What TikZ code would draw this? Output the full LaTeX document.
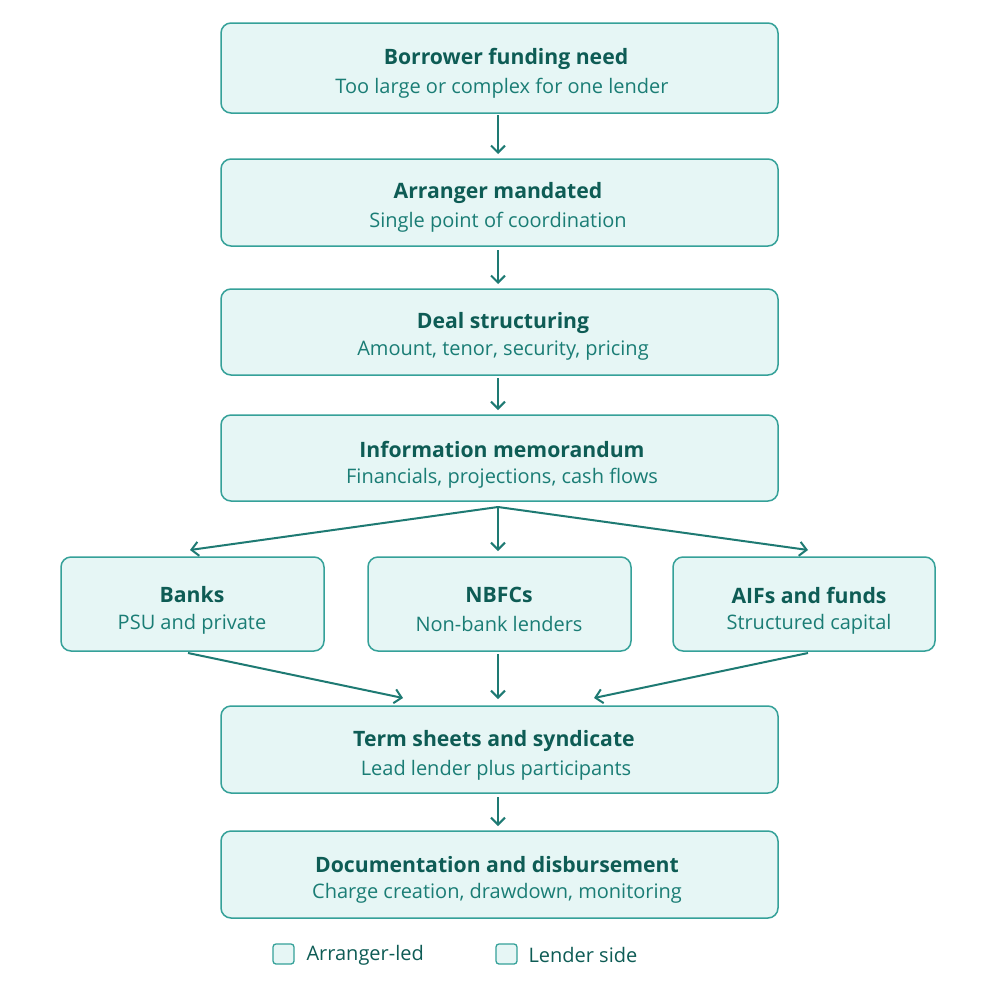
\documentclass[tikz,border=0pt]{standalone}
\usepackage{fontspec}
\setmainfont{Open Sans}
\usetikzlibrary{arrows.meta}
\definecolor{boxfill}{HTML}{E6F6F5}
\definecolor{boxline}{HTML}{35A199}
\definecolor{titlec}{HTML}{0E5C55}
\definecolor{subc}{HTML}{1A7D75}
\definecolor{arrc}{HTML}{1E7A73}
\tikzset{
  box/.style={draw=boxline, fill=boxfill, line width=1.5pt, rounded corners=10pt},
  ttl/.style={text=titlec, font=\fontsize{21.2}{25}\selectfont\bfseries, anchor=center},
  sub/.style={text=subc, font=\fontsize{20}{23}\selectfont, anchor=center},
  arr/.style={draw=arrc, line width=2pt, -{Straight Barb[length=7pt,width=14pt,line width=2pt]}},
  leg/.style={text=titlec, font=\fontsize{20}{23}\selectfont, anchor=west},
}
\begin{document}
\begin{tikzpicture}[x=1pt,y=-1pt]
\useasboundingbox (0,0) rectangle (996,999);
\fill[white] (0,0) rectangle (996,999);
% main boxes
\node[box, minimum width=557pt, minimum height=90pt] (b1) at (499.5,68) {};
\node[box, minimum width=557pt, minimum height=87pt] (b2) at (499.5,202.5) {};
\node[box, minimum width=557pt, minimum height=86pt] (b3) at (499.5,332) {};
\node[box, minimum width=557pt, minimum height=86pt] (b4) at (499.5,458) {};
\node[box, minimum width=263pt, minimum height=94pt] (b5) at (192.5,604) {};
\node[box, minimum width=263pt, minimum height=94pt] (b6) at (499.5,604) {};
\node[box, minimum width=262pt, minimum height=94pt] (b7) at (804,604) {};
\node[box, minimum width=557pt, minimum height=87pt] (b8) at (499.5,749.5) {};
\node[box, minimum width=557pt, minimum height=87pt] (b9) at (499.5,874.5) {};
% texts
\node[ttl] (t1) at (506,59) {Borrower funding need};
\node[sub] (s1) at (502,88) {Too large or complex for one lender};
\node[ttl] (t2) at (498,193) {Arranger mandated};
\node[sub] (s2) at (498,222) {Single point of coordination};
\node[ttl] (t3) at (503,323) {Deal structuring};
\node[sub] (s3) at (503,351) {Amount, tenor, security, pricing};
\node[ttl] (t4) at (502,449) {Information memorandum};
\node[sub] (s4) at (502,478) {Financials, projections, cash flows};
\node[ttl] (t5) at (192,595) {Banks};
\node[sub] (s5) at (192,624) {PSU and private};
\node[ttl] (t6) at (499,595) {NBFCs};
\node[sub] (s6) at (499,624) {Non-bank lenders};
\node[ttl] (t7) at (809,595) {AIFs and funds};
\node[sub] (s7) at (809,624) {Structured capital};
\node[ttl] (t8) at (494,741) {Term sheets and syndicate};
\node[sub] (s8) at (496,770) {Lead lender plus participants};
\node[ttl] (t9) at (497,865) {Documentation and disbursement};
\node[sub] (s9) at (497,893) {Charge creation, drawdown, monitoring};
% vertical arrows
\coordinate (a1s) at (498,115); \coordinate (a1e) at (498,154);
\draw[arr] (a1s) -- (a1e);
\coordinate (a2s) at (498,250); \coordinate (a2e) at (498,284);
\draw[arr] (a2s) -- (a2e);
\coordinate (a3s) at (498,378); \coordinate (a3e) at (498,410);
\draw[arr] (a3s) -- (a3e);
\coordinate (a8s) at (498,797); \coordinate (a8e) at (498,826);
\draw[arr] (a8s) -- (a8e);
% fan out
\coordinate (fo) at (498,507);
\coordinate (f5) at (190,550);
\coordinate (f6) at (498,551);
\coordinate (f7) at (808,550);
\draw[arr] (fo) -- (f5);
\draw[arr] (fo) -- (f6);
\draw[arr] (fo) -- (f7);
% fan in
\coordinate (g5) at (188,653);
\coordinate (g6) at (498,654);
\coordinate (g7) at (808,653);
\coordinate (h5) at (403,698);
\coordinate (h6) at (498,699);
\coordinate (h7) at (594,698);
\draw[arr] (g5) -- (h5);
\draw[arr] (g6) -- (h6);
\draw[arr] (g7) -- (h7);
% legend
\node[box, rounded corners=3pt, minimum width=21pt, minimum height=20pt, line width=1.3pt] (l1) at (283.5,954) {};
\node[leg] (l1t) at (303,955) {Arranger-led};
\node[box, rounded corners=3pt, minimum width=21pt, minimum height=20pt, line width=1.3pt] (l2) at (506.5,954) {};
\node[leg] (l2t) at (525,955) {Lender side};
\end{tikzpicture}
\end{document}
